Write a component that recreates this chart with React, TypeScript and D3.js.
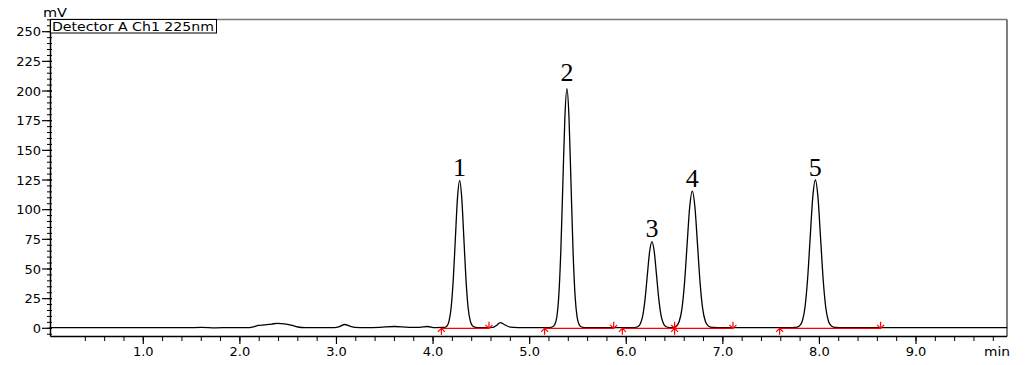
import React from 'react';
import * as d3 from 'd3';

// chromatogram trace: [time (min), signal (mV)]
const earlyBaseline: [number, number][] = [
  [0.03, 0.5], [0.3, 0.5], [0.6, 0.5], [0.9, 0.5], [1.2, 0.6], [1.45, 0.5], [1.6, 0.7],
  [1.75, 0.4], [1.9, 0.6], [2.1, 0.5], [2.15, 1.4], [2.19, 2.4], [2.26, 2.8], [2.33, 3.6],
  [2.39, 4.2], [2.46, 3.8], [2.53, 2.7], [2.6, 1.1], [2.68, 0.6], [2.85, 0.5], [2.98, 0.6],
  [3.03, 1.4], [3.085, 3.2], [3.14, 1.8], [3.19, 0.8], [3.3, 0.5], [3.45, 0.8], [3.6, 1.5],
  [3.75, 0.8], [3.86, 0.8], [3.94, 1.5], [4.02, 0.6], [4.1, 0.7],
];
const peak1: [number, number][] = [
  [4.121, 0.8], [4.143, 1.9], [4.165, 5.9], [4.187, 17.3], [4.209, 40.8], [4.231, 75.7],
  [4.253, 109.9], [4.275, 124.5], [4.297, 109.9], [4.319, 75.7], [4.341, 40.8], [4.363, 17.3],
  [4.385, 6.2], [4.407, 2.2], [4.429, 1.0], [4.46, 0.6],
];
const afterPeak1: [number, number][] = [
  [4.55, 0.5], [4.62, 0.8], [4.66, 2.6], [4.695, 4.8], [4.74, 3.0], [4.8, 1.0], [4.88, 0.6],
  [5.0, 0.5], [5.12, 0.5],
];
const peak2: [number, number][] = [
  [5.197, 0.6], [5.218, 0.8], [5.239, 1.3], [5.26, 3.3], [5.281, 9.3], [5.302, 27.8],
  [5.323, 65.9], [5.344, 122.7], [5.365, 178.3], [5.386, 202], [5.407, 178.3], [5.428, 122.7],
  [5.449, 65.9], [5.47, 27.8], [5.491, 9.6], [5.512, 3.3], [5.533, 1.3], [5.554, 0.8], [5.575, 0.6],
];
const afterPeak2: [number, number][] = [[5.7, 0.5], [5.85, 0.5], [5.98, 0.5], [6.05, 0.55]];
const peak3and4: [number, number][] = [
  [6.074, 0.6], [6.098, 0.8], [6.122, 1.5], [6.146, 3.9], [6.17, 10.3], [6.194, 24.0],
  [6.218, 44.5], [6.242, 64.5], [6.266, 73], [6.29, 64.5], [6.314, 44.5], [6.338, 24.0],
  [6.362, 10.3], [6.386, 3.9], [6.41, 1.5], [6.434, 0.8], [6.465, 0.6], [6.495, 0.9],
  [6.522, 2.3], [6.549, 5.9], [6.576, 16.1], [6.603, 37.9], [6.63, 70.4], [6.657, 102.2],
  [6.684, 115.7], [6.711, 102.2], [6.738, 70.4], [6.765, 37.9], [6.792, 16.1], [6.819, 5.9],
  [6.846, 2.3], [6.873, 1.0], [6.9, 0.7],
];
const afterPeak4: [number, number][] = [[7.0, 0.5], [7.3, 0.5], [7.6, 0.5], [7.69, 0.55]];
const peak5: [number, number][] = [
  [7.715, 0.6], [7.742, 0.7], [7.769, 1.0], [7.796, 2.3], [7.823, 6.2], [7.85, 17.3],
  [7.877, 40.9], [7.904, 76.0], [7.931, 110.4], [7.958, 125], [7.985, 110.4], [8.012, 76.0],
  [8.039, 40.9], [8.066, 17.3], [8.093, 6.2], [8.12, 2.3], [8.147, 1.0], [8.174, 0.7], [8.2, 0.6],
];
const lateBaseline: [number, number][] = [[8.3, 0.5], [8.7, 0.5], [9.2, 0.5], [9.944, 0.5]];

// peak annotations
const peakNames = ['1', '2', '3', '4', '5'];
const peakTimes = [4.275, 5.386, 6.266, 6.684, 7.958];
const peakHeights = [124.5, 202, 73, 115.7, 125];

// integration baseline (red) start / end times
const baseStarts = [4.086, 5.155, 5.96, 6.501, 7.588];
const baseEnds = [4.579, 5.87, 6.501, 7.105, 8.634];
const baseLevel = 0;

const xTicks = [1, 2, 3, 4, 5, 6, 7, 8, 9];
const xTickLabels = ['1.0', '2.0', '3.0', '4.0', '5.0', '6.0', '7.0', '8.0', '9.0'];
const yTicks = [0, 25, 50, 75, 100, 125, 150, 175, 200, 225, 250];
const yTickLabels = ['0', '25', '50', '75', '100', '125', '150', '175', '200', '225', '250'];

const App = () => {
  const width = 1028;
  const height = 365;
  const left = 50.5;
  const right = 1007;
  const top = 19.5;
  const bottom = 336.5;

  const x = d3.scaleLinear().domain([0, 10]).range([46.7, 1012.6]);
  const y = d3.scaleLinear().domain([0, 250]).range([328.3, 31.7]);

  const trace = [
    ...earlyBaseline, ...peak1, ...afterPeak1, ...peak2, ...afterPeak2,
    ...peak3and4, ...afterPeak4, ...peak5, ...lateBaseline,
  ];
  const line = d3.line<[number, number]>()
    .x(d => x(d[0]))
    .y(d => y(d[1]))
    .curve(d3.curveMonotoneX);

  const minorX = d3.range(2, 50).map(i => i / 5).filter(t => x(t) > left && x(t) < right);
  const minorY = d3.range(-5, 261, 5);
  const font = 'DejaVu Sans, sans-serif';
  const yb = y(baseLevel);

  return (
    <svg width={width} height={height} style={{ position: 'absolute', left: 0, top: 0, background: '#fff' }}>
      {/* frame: top/right grey, axes black */}
      <line x1={left} y1={top} x2={right} y2={top} stroke="#777" strokeWidth={1.5} />
      <line x1={right} y1={top} x2={right} y2={bottom} stroke="#555" strokeWidth={1.5} />

      <path d={line(trace) || ''} fill="none" stroke="#000" strokeWidth={1.3} />

      {/* integration baselines */}
      {baseStarts.map((s, i) => (
        <line key={'b' + i} x1={x(s)} y1={yb} x2={x(baseEnds[i])} y2={yb} stroke="#f00" strokeWidth={1.3} />
      ))}
      {baseStarts.map((s, i) => (
        <path key={'s' + i} d={`M${x(s)},${yb + 6.5}V${yb}M${x(s) - 3.5},${yb + 3.5}L${x(s)},${yb}L${x(s) + 3.5},${yb + 3.5}`}
          fill="none" stroke="#f00" strokeWidth={1.2} />
      ))}
      {baseEnds.map((e, i) => (
        <path key={'e' + i} d={`M${x(e)},${yb - 6.5}V${yb}M${x(e) - 3.5},${yb - 3.5}L${x(e)},${yb}L${x(e) + 3.5},${yb - 3.5}`}
          fill="none" stroke="#f00" strokeWidth={1.2} />
      ))}

      {/* y axis */}
      <line x1={left} y1={top} x2={left} y2={bottom} stroke="#000" strokeWidth={1.5} />
      {minorY.map(v => (
        <line key={'my' + v} x1={47} x2={52} y1={y(v)} y2={y(v)} stroke="#000" strokeWidth={1} />
      ))}
      {yTicks.map((v, i) => (
        <g key={'y' + v}>
          <line x1={42} x2={52} y1={y(v)} y2={y(v)} stroke="#000" strokeWidth={1.2} />
          <text x={41} y={y(v)} dy="0.36em" textAnchor="end" fontFamily={font} fontSize={13} fill="#000">
            {yTickLabels[i]}
          </text>
        </g>
      ))}
      <text x={43} y={16.5} fontFamily={font} fontSize={13} textLength={24} lengthAdjust="spacingAndGlyphs">mV</text>

      {/* x axis */}
      <line x1={left} y1={bottom} x2={right} y2={bottom} stroke="#000" strokeWidth={1.5} />
      {minorX.map(t => (
        <line key={'mx' + t} x1={x(t)} x2={x(t)} y1={bottom} y2={341} stroke="#000" strokeWidth={1} />
      ))}
      {xTicks.map((t, i) => (
        <g key={'x' + t}>
          <line x1={x(t)} x2={x(t)} y1={bottom} y2={344} stroke="#000" strokeWidth={1.2} />
          <text x={x(t)} y={356} textAnchor="middle" fontFamily={font} fontSize={13} fill="#000">
            {xTickLabels[i]}
          </text>
        </g>
      ))}
      <text x={984} y={356} fontFamily={font} fontSize={13} textLength={26} lengthAdjust="spacingAndGlyphs">min</text>

      {/* legend */}
      <rect x={left} y={top} width={166} height={13.5} fill="#fff" stroke="#000" strokeWidth={1} />
      <text x={52} y={31} fontFamily={font} fontSize={13} textLength={162} lengthAdjust="spacingAndGlyphs">
        Detector A Ch1 225nm
      </text>

      {/* peak numbers */}
      {peakNames.map((n, i) => (
        <text key={'p' + n} x={x(peakTimes[i])} y={y(peakHeights[i]) - (i === 1 ? 8 : 4.5)} textAnchor="middle"
          fontFamily="Liberation Serif, Times New Roman, serif" fontSize={26} fill="#000">
          {n}
        </text>
      ))}
    </svg>
  );
};

export default App;
